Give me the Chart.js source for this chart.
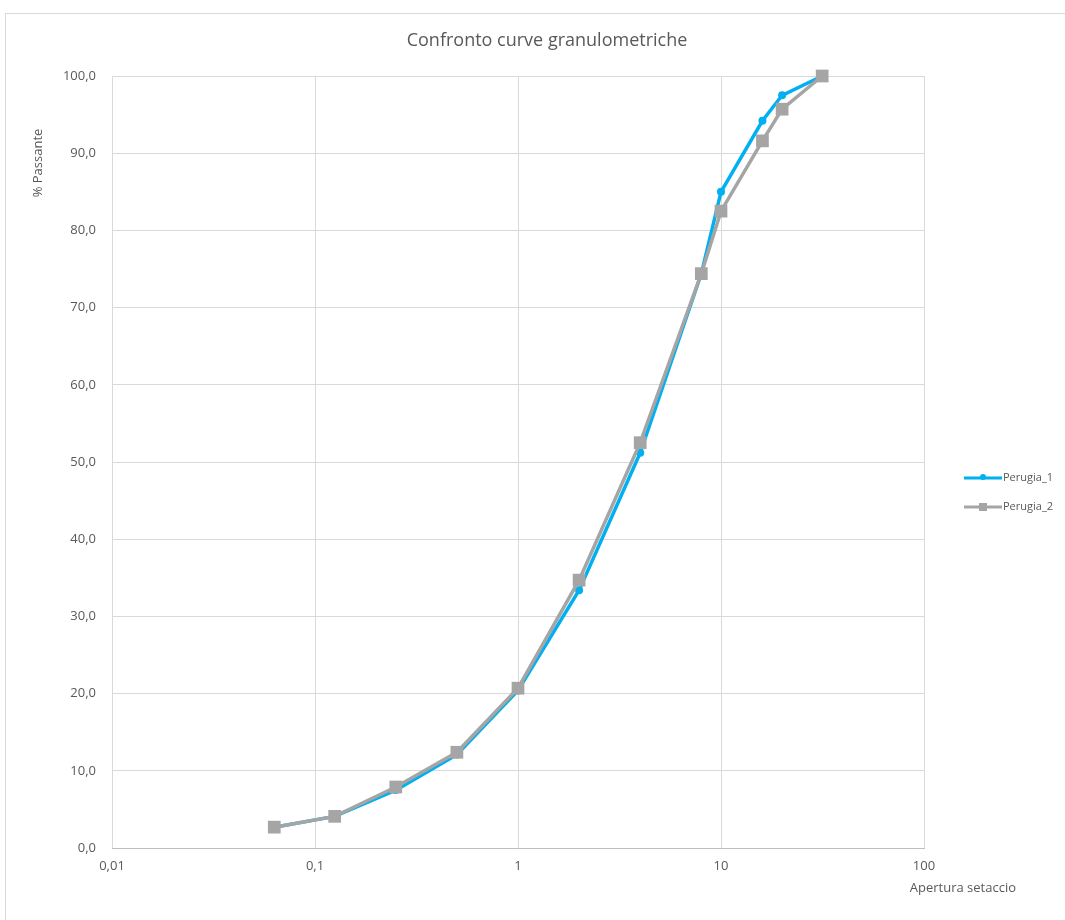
<!DOCTYPE html>
<html>
<head>
<meta charset="utf-8">
<title>Confronto curve granulometriche</title>
<script src="https://cdn.jsdelivr.net/npm/chart.js@4/dist/chart.umd.min.js"></script>
<style>
  html, body { margin: 0; padding: 0; background: #ffffff; }
  #wrap { position: relative; width: 1065px; height: 920px; }
  canvas { display: block; }
</style>
</head>
<body>
<div id="wrap"><canvas id="chart" width="1065" height="920"></canvas></div>
<script>
// Sieve openings (mm) and percentage passing for each sample
const sieves = [0.063, 0.125, 0.25, 0.5, 1, 2, 4, 8, 10, 16, 20, 31.5];
const perugia1 = [2.7, 4.1, 7.5, 12.1, 20.4, 33.4, 51.2, 74.4, 85.0, 94.2, 97.5, 100.0];
const perugia2 = [2.7, 4.1, 7.9, 12.4, 20.7, 34.7, 52.5, 74.4, 82.5, 91.6, 95.7, 100.0];
const xTicks = [0.01, 0.1, 1, 10, 100];
const xTickLabels = ['0,01', '0,1', '1', '10', '100'];

const titleText = 'Confronto curve granulometriche';
const yTitle = '% Passante';
const xTitle = 'Apertura setaccio';

const FONT = '"Open Sans", "DejaVu Sans", sans-serif';
const TEXT = '#595959';
const BLUE = '#00B0F0';
const GREY = '#A5A5A5';
const GRID = '#D9D9D9';

const toPoints = (ys) => sieves.map((x, i) => ({ x: x, y: ys[i] }));

// Frame, title, axis titles and the legend drawn around the plot
const decorations = {
  id: 'decorations',
  beforeDraw(chart) {
    const ctx = chart.ctx;
    ctx.save();
    ctx.fillStyle = '#ffffff';
    ctx.fillRect(0, 0, chart.width, chart.height);
    ctx.strokeStyle = '#D9D9D9';
    ctx.lineWidth = 1;
    ctx.strokeRect(5.5, 13.5, 1200, 1200);
    ctx.restore();
  },
  afterDraw(chart) {
    const ctx = chart.ctx;
    ctx.save();
    ctx.fillStyle = TEXT;
    // chart title
    ctx.font = '18px ' + FONT;
    ctx.textAlign = 'center';
    ctx.textBaseline = 'middle';
    ctx.fillText(titleText, 547, 41);
    // y axis title
    ctx.font = '13px ' + FONT;
    ctx.save();
    ctx.translate(38, 163);
    ctx.rotate(-Math.PI / 2);
    ctx.fillText(yTitle, 0, 0);
    ctx.restore();
    // x axis title
    ctx.textAlign = 'right';
    ctx.fillText(xTitle, 1016, 888);

    // legend
    const items = chart.data.datasets.map((ds, i) => ({ ds, y: 478 + i * 29 }));
    items.forEach(({ ds, y }) => {
      ctx.strokeStyle = ds.borderColor;
      ctx.lineWidth = 3;
      ctx.beginPath();
      ctx.moveTo(964, y);
      ctx.lineTo(1002, y);
      ctx.stroke();
      ctx.fillStyle = ds.pointBackgroundColor;
      if (ds.pointStyle === 'rect') {
        ctx.fillRect(979, y - 4, 8, 8);
      } else {
        ctx.beginPath();
        ctx.arc(983, y - 1, 3, 0, Math.PI * 2);
        ctx.fill();
      }
      ctx.fillStyle = TEXT;
      ctx.font = '11px ' + FONT;
      ctx.textAlign = 'left';
      ctx.fillText(ds.label, 1003, y);
    });
    ctx.restore();
  }
};

new Chart(document.getElementById('chart'), {
  type: 'line',
  data: {
    datasets: [
      {
        label: 'Perugia_1',
        data: toPoints(perugia1),
        borderColor: BLUE,
        backgroundColor: BLUE,
        pointBackgroundColor: BLUE,
        pointBorderColor: BLUE,
        borderWidth: 3.5,
        pointStyle: 'circle',
        pointRadius: 4,
        pointBorderWidth: 0,
        tension: 0,
        clip: false,
        order: 1
      },
      {
        label: 'Perugia_2',
        data: toPoints(perugia2),
        borderColor: GREY,
        backgroundColor: GREY,
        pointBackgroundColor: GREY,
        pointBorderColor: GREY,
        borderWidth: 3.5,
        pointStyle: 'rect',
        pointRadius: 9,
        pointBorderWidth: 0,
        tension: 0,
        clip: false,
        order: 0
      }
    ]
  },
  options: {
    responsive: false,
    animation: false,
    layout: { padding: { top: 76, right: 141, left: 0, bottom: 0 } },
    plugins: {
      legend: { display: false },
      title: { display: false },
      tooltip: { enabled: false }
    },
    scales: {
      x: {
        type: 'logarithmic',
        min: 0.01,
        max: 100,
        afterBuildTicks(scale) {
          scale.ticks = xTicks.map(v => ({ value: v }));
        },
        afterFit(scale) { scale.height = 72; },
        ticks: {
          autoSkip: false,
          maxRotation: 0,
          padding: 10,
          color: TEXT,
          font: { family: FONT, size: 13 },
          callback(value) {
            const i = xTicks.indexOf(value);
            return i >= 0 ? xTickLabels[i] : '';
          }
        },
        grid: { color: GRID, lineWidth: 1, drawTicks: false },
        border: { color: '#BFBFBF', width: 1 }
      },
      y: {
        type: 'linear',
        min: 0,
        max: 100,
        afterFit(scale) { scale.width = 112; },
        ticks: {
          stepSize: 10,
          padding: 16,
          color: TEXT,
          font: { family: FONT, size: 13 },
          callback(value) { return value.toFixed(1).replace('.', ','); }
        },
        grid: { color: GRID, lineWidth: 1, drawTicks: false },
        border: { display: false }
      }
    }
  },
  plugins: [decorations]
});
</script>
</body>
</html>
